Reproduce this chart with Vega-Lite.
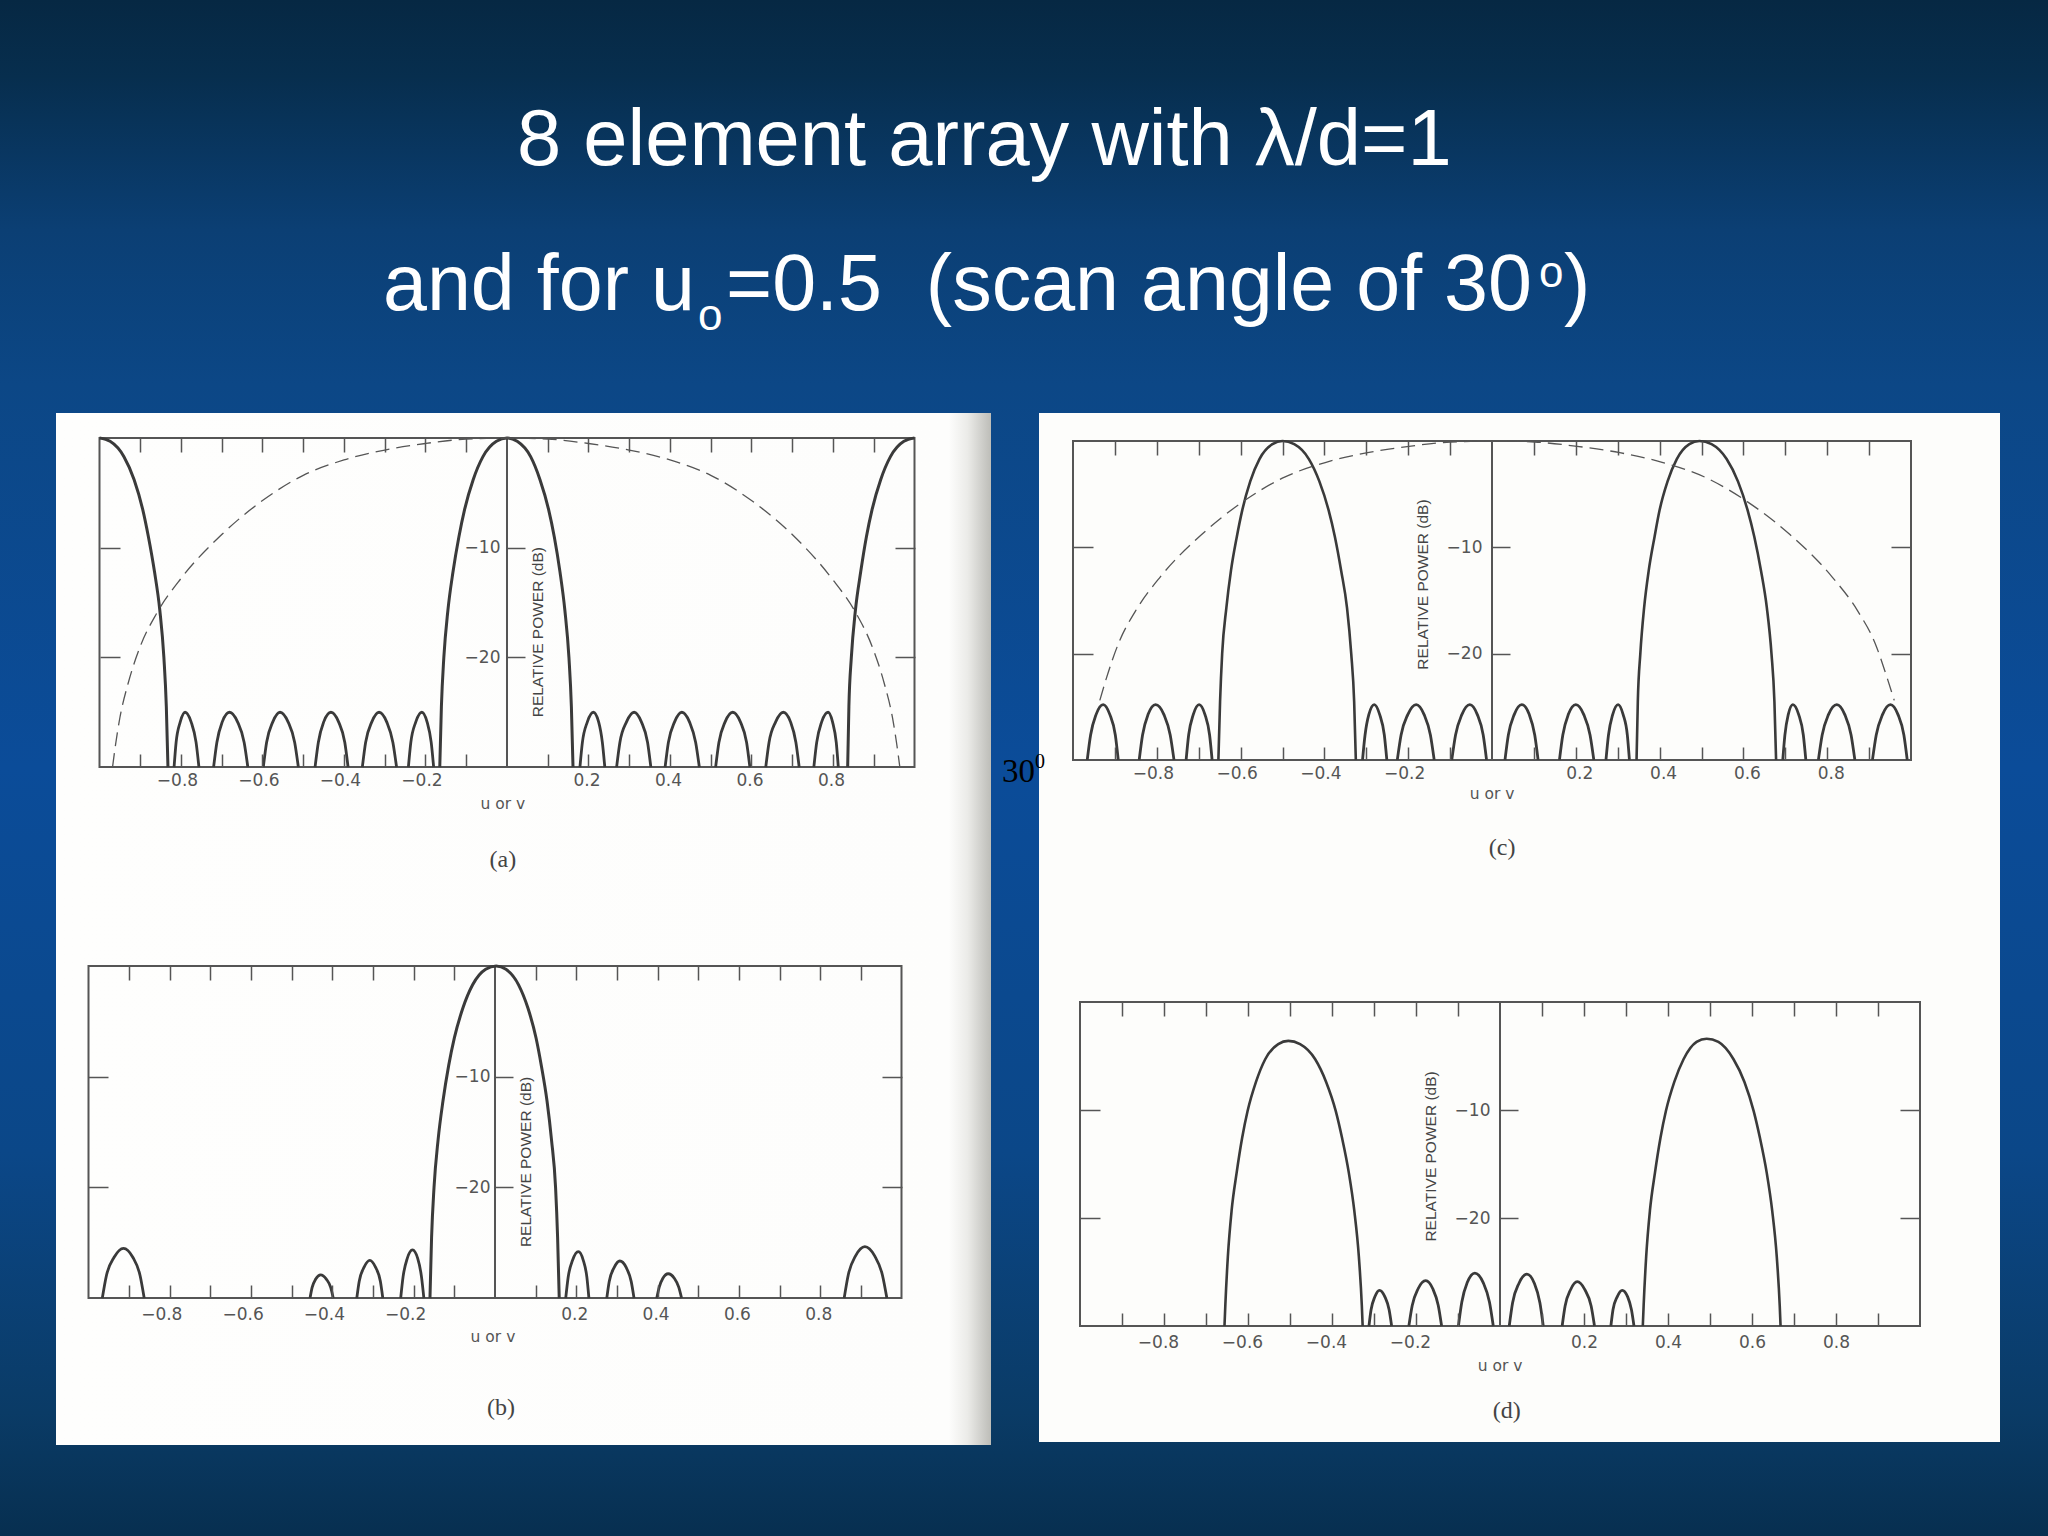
{
"$schema":"https://vega.github.io/schema/vega-lite/v6.json",
"width":2048,"height":1536,"padding":0,"autosize":{"type":"none"},"background":"#0b4a94",
"datasets":{
"frame":[{"u":-1,"u2":1,"db":-30,"db2":0}],
"center":[{"u":0,"db":-30,"db2":0}],
"a_main":[
{"lobe":"m","u":-0.165,"db":-30},{"lobe":"m","u":-0.161,"db":-24.5},{"lobe":"m","u":-0.155,"db":-20},{"lobe":"m","u":-0.145,"db":-15.7},{"lobe":"m","u":-0.1325,"db":-12.2},{"lobe":"m","u":-0.118,"db":-9},{"lobe":"m","u":-0.104,"db":-6.5},{"lobe":"m","u":-0.083,"db":-3.8},{"lobe":"m","u":-0.059,"db":-1.7},{"lobe":"m","u":-0.026,"db":-0.3},{"lobe":"m","u":0,"db":0},{"lobe":"m","u":0.025,"db":-0.3},{"lobe":"m","u":0.058,"db":-1.7},{"lobe":"m","u":0.081,"db":-3.8},{"lobe":"m","u":0.102,"db":-6.5},{"lobe":"m","u":0.116,"db":-9},{"lobe":"m","u":0.13,"db":-12.2},{"lobe":"m","u":0.142,"db":-15.7},{"lobe":"m","u":0.152,"db":-20},{"lobe":"m","u":0.158,"db":-24.5},{"lobe":"m","u":0.162,"db":-30},
{"lobe":"gl","u":-1,"db":0},{"lobe":"gl","u":-0.974,"db":-0.3},{"lobe":"gl","u":-0.94,"db":-1.7},{"lobe":"gl","u":-0.915,"db":-3.8},{"lobe":"gl","u":-0.894,"db":-6.5},{"lobe":"gl","u":-0.88,"db":-9},{"lobe":"gl","u":-0.865,"db":-12.2},{"lobe":"gl","u":-0.852,"db":-15.7},{"lobe":"gl","u":-0.842,"db":-20},{"lobe":"gl","u":-0.836,"db":-24.5},{"lobe":"gl","u":-0.832,"db":-30},
{"lobe":"gr","u":0.836,"db":-30},{"lobe":"gr","u":0.839,"db":-24.5},{"lobe":"gr","u":0.845,"db":-20},{"lobe":"gr","u":0.855,"db":-15.7},{"lobe":"gr","u":0.868,"db":-12.2},{"lobe":"gr","u":0.882,"db":-9},{"lobe":"gr","u":0.896,"db":-6.5},{"lobe":"gr","u":0.917,"db":-3.8},{"lobe":"gr","u":0.941,"db":-1.7},{"lobe":"gr","u":0.974,"db":-0.3},{"lobe":"gr","u":1,"db":0}],
"a_side":[
{"lobe":"1","u":-0.817,"db":-30},{"lobe":"1","u":-0.812,"db":-27.75},{"lobe":"1","u":-0.802,"db":-25.9},{"lobe":"1","u":-0.79,"db":-25},{"lobe":"1","u":-0.775,"db":-25.9},{"lobe":"1","u":-0.763,"db":-27.75},{"lobe":"1","u":-0.756,"db":-30},
{"lobe":"2","u":-0.72,"db":-30},{"lobe":"2","u":-0.712,"db":-27.75},{"lobe":"2","u":-0.699,"db":-25.9},{"lobe":"2","u":-0.681,"db":-25},{"lobe":"2","u":-0.661,"db":-25.9},{"lobe":"2","u":-0.645,"db":-27.75},{"lobe":"2","u":-0.636,"db":-30},
{"lobe":"3","u":-0.598,"db":-30},{"lobe":"3","u":-0.59,"db":-27.75},{"lobe":"3","u":-0.575,"db":-25.9},{"lobe":"3","u":-0.557,"db":-25},{"lobe":"3","u":-0.537,"db":-25.9},{"lobe":"3","u":-0.521,"db":-27.75},{"lobe":"3","u":-0.512,"db":-30},
{"lobe":"4","u":-0.471,"db":-30},{"lobe":"4","u":-0.463,"db":-27.75},{"lobe":"4","u":-0.45,"db":-25.9},{"lobe":"4","u":-0.432,"db":-25},{"lobe":"4","u":-0.413,"db":-25.9},{"lobe":"4","u":-0.398,"db":-27.75},{"lobe":"4","u":-0.39,"db":-30},
{"lobe":"5","u":-0.355,"db":-30},{"lobe":"5","u":-0.347,"db":-27.75},{"lobe":"5","u":-0.332,"db":-25.9},{"lobe":"5","u":-0.314,"db":-25},{"lobe":"5","u":-0.295,"db":-25.9},{"lobe":"5","u":-0.28,"db":-27.75},{"lobe":"5","u":-0.271,"db":-30},
{"lobe":"6","u":-0.242,"db":-30},{"lobe":"6","u":-0.236,"db":-27.75},{"lobe":"6","u":-0.224,"db":-25.9},{"lobe":"6","u":-0.209,"db":-25},{"lobe":"6","u":-0.196,"db":-25.9},{"lobe":"6","u":-0.186,"db":-27.75},{"lobe":"6","u":-0.18,"db":-30},
{"lobe":"7","u":0.179,"db":-30},{"lobe":"7","u":0.185,"db":-27.75},{"lobe":"7","u":0.197,"db":-25.9},{"lobe":"7","u":0.212,"db":-25},{"lobe":"7","u":0.225,"db":-25.9},{"lobe":"7","u":0.234,"db":-27.75},{"lobe":"7","u":0.24,"db":-30},
{"lobe":"8","u":0.269,"db":-30},{"lobe":"8","u":0.277,"db":-27.75},{"lobe":"8","u":0.293,"db":-25.9},{"lobe":"8","u":0.312,"db":-25},{"lobe":"8","u":0.33,"db":-25.9},{"lobe":"8","u":0.345,"db":-27.75},{"lobe":"8","u":0.353,"db":-30},
{"lobe":"9","u":0.388,"db":-30},{"lobe":"9","u":0.396,"db":-27.75},{"lobe":"9","u":0.411,"db":-25.9},{"lobe":"9","u":0.429,"db":-25},{"lobe":"9","u":0.448,"db":-25.9},{"lobe":"9","u":0.463,"db":-27.75},{"lobe":"9","u":0.472,"db":-30},
{"lobe":"10","u":0.512,"db":-30},{"lobe":"10","u":0.52,"db":-27.75},{"lobe":"10","u":0.535,"db":-25.9},{"lobe":"10","u":0.554,"db":-25},{"lobe":"10","u":0.573,"db":-25.9},{"lobe":"10","u":0.588,"db":-27.75},{"lobe":"10","u":0.596,"db":-30},
{"lobe":"11","u":0.635,"db":-30},{"lobe":"11","u":0.643,"db":-27.75},{"lobe":"11","u":0.659,"db":-25.9},{"lobe":"11","u":0.678,"db":-25},{"lobe":"11","u":0.696,"db":-25.9},{"lobe":"11","u":0.709,"db":-27.75},{"lobe":"11","u":0.717,"db":-30},
{"lobe":"12","u":0.753,"db":-30},{"lobe":"12","u":0.76,"db":-27.75},{"lobe":"12","u":0.772,"db":-25.9},{"lobe":"12","u":0.788,"db":-25},{"lobe":"12","u":0.799,"db":-25.9},{"lobe":"12","u":0.808,"db":-27.75},{"lobe":"12","u":0.813,"db":-30}],
"a_dash":[{"u":-0.968,"db":-30},{"u":-0.96,"db":-27.8},{"u":-0.95,"db":-25.5},{"u":-0.93,"db":-22.4},{"u":-0.9,"db":-19},{"u":-0.86,"db":-16},{"u":-0.8,"db":-12.8},{"u":-0.7,"db":-8.8},{"u":-0.6,"db":-5.7},{"u":-0.5,"db":-3.4},{"u":-0.4,"db":-2},{"u":-0.3,"db":-1.1},{"u":-0.2,"db":-0.5},{"u":-0.1,"db":-0.1},{"u":0,"db":0},{"u":0.1,"db":-0.1},{"u":0.2,"db":-0.5},{"u":0.3,"db":-1.1},{"u":0.4,"db":-2},{"u":0.5,"db":-3.4},{"u":0.6,"db":-5.7},{"u":0.7,"db":-8.8},{"u":0.797,"db":-12.8},{"u":0.857,"db":-16},{"u":0.896,"db":-19},{"u":0.926,"db":-22.4},{"u":0.946,"db":-25.5},{"u":0.956,"db":-27.8},{"u":0.964,"db":-30}],
"b_side":[
{"lobe":"1","u":-0.966,"db":-30},{"lobe":"1","u":-0.956,"db":-27.98},{"lobe":"1","u":-0.937,"db":-26.31},{"lobe":"1","u":-0.914,"db":-25.5},{"lobe":"1","u":-0.891,"db":-26.31},{"lobe":"1","u":-0.873,"db":-27.98},{"lobe":"1","u":-0.863,"db":-30},
{"lobe":"2","u":-0.455,"db":-30},{"lobe":"2","u":-0.45,"db":-29.06},{"lobe":"2","u":-0.441,"db":-28.28},{"lobe":"2","u":-0.429,"db":-27.9},{"lobe":"2","u":-0.415,"db":-28.28},{"lobe":"2","u":-0.404,"db":-29.06},{"lobe":"2","u":-0.398,"db":-30},
{"lobe":"3","u":-0.34,"db":-30},{"lobe":"3","u":-0.334,"db":-28.47},{"lobe":"3","u":-0.322,"db":-27.21},{"lobe":"3","u":-0.308,"db":-26.6},{"lobe":"3","u":-0.294,"db":-27.21},{"lobe":"3","u":-0.282,"db":-28.47},{"lobe":"3","u":-0.276,"db":-30},
{"lobe":"4","u":-0.232,"db":-30},{"lobe":"4","u":-0.226,"db":-28.04},{"lobe":"4","u":-0.216,"db":-26.43},{"lobe":"4","u":-0.203,"db":-25.65},{"lobe":"4","u":-0.19,"db":-26.43},{"lobe":"4","u":-0.181,"db":-28.04},{"lobe":"4","u":-0.175,"db":-30},
{"lobe":"5","u":0.174,"db":-30},{"lobe":"5","u":0.18,"db":-28.11},{"lobe":"5","u":0.191,"db":-26.56},{"lobe":"5","u":0.205,"db":-25.8},{"lobe":"5","u":0.217,"db":-26.56},{"lobe":"5","u":0.226,"db":-28.11},{"lobe":"5","u":0.231,"db":-30},
{"lobe":"6","u":0.275,"db":-30},{"lobe":"6","u":0.281,"db":-28.49},{"lobe":"6","u":0.293,"db":-27.25},{"lobe":"6","u":0.307,"db":-26.65},{"lobe":"6","u":0.323,"db":-27.25},{"lobe":"6","u":0.335,"db":-28.49},{"lobe":"6","u":0.342,"db":-30},
{"lobe":"7","u":0.398,"db":-30},{"lobe":"7","u":0.404,"db":-29.01},{"lobe":"7","u":0.413,"db":-28.2},{"lobe":"7","u":0.426,"db":-27.8},{"lobe":"7","u":0.441,"db":-28.2},{"lobe":"7","u":0.452,"db":-29.01},{"lobe":"7","u":0.459,"db":-30},
{"lobe":"8","u":0.859,"db":-30},{"lobe":"8","u":0.869,"db":-27.91},{"lobe":"8","u":0.887,"db":-26.19},{"lobe":"8","u":0.91,"db":-25.35},{"lobe":"8","u":0.934,"db":-26.19},{"lobe":"8","u":0.953,"db":-27.91},{"lobe":"8","u":0.964,"db":-30}],
"b_main":[{"lobe":"m","u":-0.16,"db":-30},{"lobe":"m","u":-0.156,"db":-24.5},{"lobe":"m","u":-0.15,"db":-20},{"lobe":"m","u":-0.14,"db":-15.7},{"lobe":"m","u":-0.128,"db":-12.2},{"lobe":"m","u":-0.114,"db":-9},{"lobe":"m","u":-0.1,"db":-6.5},{"lobe":"m","u":-0.079,"db":-3.8},{"lobe":"m","u":-0.055,"db":-1.7},{"lobe":"m","u":-0.023,"db":-0.3},{"lobe":"m","u":0.003,"db":0},{"lobe":"m","u":0.027,"db":-0.3},{"lobe":"m","u":0.058,"db":-1.7},{"lobe":"m","u":0.081,"db":-3.8},{"lobe":"m","u":0.101,"db":-6.5},{"lobe":"m","u":0.114,"db":-9},{"lobe":"m","u":0.128,"db":-12.2},{"lobe":"m","u":0.139,"db":-15.7},{"lobe":"m","u":0.149,"db":-20},{"lobe":"m","u":0.154,"db":-24.5},{"lobe":"m","u":0.158,"db":-30}],
"c_main":[
{"lobe":"m1","u":-0.653,"db":-30},{"lobe":"m1","u":-0.649,"db":-24.5},{"lobe":"m1","u":-0.644,"db":-20},{"lobe":"m1","u":-0.634,"db":-15.7},{"lobe":"m1","u":-0.623,"db":-12.2},{"lobe":"m1","u":-0.609,"db":-9},{"lobe":"m1","u":-0.596,"db":-6.5},{"lobe":"m1","u":-0.577,"db":-3.8},{"lobe":"m1","u":-0.555,"db":-1.7},{"lobe":"m1","u":-0.524,"db":-0.3},{"lobe":"m1","u":-0.5,"db":0},{"lobe":"m1","u":-0.472,"db":-0.3},{"lobe":"m1","u":-0.437,"db":-1.7},{"lobe":"m1","u":-0.412,"db":-3.8},{"lobe":"m1","u":-0.39,"db":-6.5},{"lobe":"m1","u":-0.375,"db":-9},{"lobe":"m1","u":-0.36,"db":-12.2},{"lobe":"m1","u":-0.346,"db":-15.7},{"lobe":"m1","u":-0.336,"db":-20},{"lobe":"m1","u":-0.329,"db":-24.5},{"lobe":"m1","u":-0.325,"db":-30},
{"lobe":"m2","u":0.345,"db":-30},{"lobe":"m2","u":0.348,"db":-24.5},{"lobe":"m2","u":0.354,"db":-20},{"lobe":"m2","u":0.363,"db":-15.7},{"lobe":"m2","u":0.374,"db":-12.2},{"lobe":"m2","u":0.388,"db":-9},{"lobe":"m2","u":0.4,"db":-6.5},{"lobe":"m2","u":0.419,"db":-3.8},{"lobe":"m2","u":0.441,"db":-1.7},{"lobe":"m2","u":0.471,"db":-0.3},{"lobe":"m2","u":0.495,"db":0},{"lobe":"m2","u":0.524,"db":-0.3},{"lobe":"m2","u":0.56,"db":-1.7},{"lobe":"m2","u":0.587,"db":-3.8},{"lobe":"m2","u":0.61,"db":-6.5},{"lobe":"m2","u":0.626,"db":-9},{"lobe":"m2","u":0.642,"db":-12.2},{"lobe":"m2","u":0.656,"db":-15.7},{"lobe":"m2","u":0.667,"db":-20},{"lobe":"m2","u":0.674,"db":-24.5},{"lobe":"m2","u":0.678,"db":-30}],
"c_side":[
{"lobe":"1","u":-0.966,"db":-30},{"lobe":"1","u":-0.958,"db":-27.66},{"lobe":"1","u":-0.945,"db":-25.74},{"lobe":"1","u":-0.928,"db":-24.8},{"lobe":"1","u":-0.912,"db":-25.74},{"lobe":"1","u":-0.899,"db":-27.66},{"lobe":"1","u":-0.892,"db":-30},
{"lobe":"2","u":-0.842,"db":-30},{"lobe":"2","u":-0.834,"db":-27.66},{"lobe":"2","u":-0.821,"db":-25.74},{"lobe":"2","u":-0.803,"db":-24.8},{"lobe":"2","u":-0.783,"db":-25.74},{"lobe":"2","u":-0.768,"db":-27.66},{"lobe":"2","u":-0.759,"db":-30},
{"lobe":"3","u":-0.73,"db":-30},{"lobe":"3","u":-0.724,"db":-27.66},{"lobe":"3","u":-0.713,"db":-25.74},{"lobe":"3","u":-0.699,"db":-24.8},{"lobe":"3","u":-0.685,"db":-25.74},{"lobe":"3","u":-0.674,"db":-27.66},{"lobe":"3","u":-0.668,"db":-30},
{"lobe":"4","u":-0.309,"db":-30},{"lobe":"4","u":-0.303,"db":-27.66},{"lobe":"4","u":-0.294,"db":-25.74},{"lobe":"4","u":-0.281,"db":-24.8},{"lobe":"4","u":-0.268,"db":-25.74},{"lobe":"4","u":-0.257,"db":-27.66},{"lobe":"4","u":-0.251,"db":-30},
{"lobe":"5","u":-0.226,"db":-30},{"lobe":"5","u":-0.217,"db":-27.66},{"lobe":"5","u":-0.201,"db":-25.74},{"lobe":"5","u":-0.181,"db":-24.8},{"lobe":"5","u":-0.162,"db":-25.74},{"lobe":"5","u":-0.147,"db":-27.66},{"lobe":"5","u":-0.138,"db":-30},
{"lobe":"6","u":-0.096,"db":-30},{"lobe":"6","u":-0.087,"db":-27.66},{"lobe":"6","u":-0.072,"db":-25.74},{"lobe":"6","u":-0.053,"db":-24.8},{"lobe":"6","u":-0.035,"db":-25.74},{"lobe":"6","u":-0.021,"db":-27.66},{"lobe":"6","u":-0.013,"db":-30},
{"lobe":"7","u":0.031,"db":-30},{"lobe":"7","u":0.039,"db":-27.66},{"lobe":"7","u":0.053,"db":-25.74},{"lobe":"7","u":0.071,"db":-24.8},{"lobe":"7","u":0.089,"db":-25.74},{"lobe":"7","u":0.102,"db":-27.66},{"lobe":"7","u":0.11,"db":-30},
{"lobe":"8","u":0.161,"db":-30},{"lobe":"8","u":0.169,"db":-27.66},{"lobe":"8","u":0.182,"db":-25.74},{"lobe":"8","u":0.2,"db":-24.8},{"lobe":"8","u":0.219,"db":-25.74},{"lobe":"8","u":0.234,"db":-27.66},{"lobe":"8","u":0.243,"db":-30},
{"lobe":"9","u":0.272,"db":-30},{"lobe":"9","u":0.278,"db":-27.66},{"lobe":"9","u":0.288,"db":-25.74},{"lobe":"9","u":0.301,"db":-24.8},{"lobe":"9","u":0.313,"db":-25.74},{"lobe":"9","u":0.323,"db":-27.66},{"lobe":"9","u":0.328,"db":-30},
{"lobe":"10","u":0.694,"db":-30},{"lobe":"10","u":0.699,"db":-27.66},{"lobe":"10","u":0.707,"db":-25.74},{"lobe":"10","u":0.718,"db":-24.8},{"lobe":"10","u":0.732,"db":-25.74},{"lobe":"10","u":0.743,"db":-27.66},{"lobe":"10","u":0.749,"db":-30},
{"lobe":"11","u":0.779,"db":-30},{"lobe":"11","u":0.788,"db":-27.66},{"lobe":"11","u":0.803,"db":-25.74},{"lobe":"11","u":0.823,"db":-24.8},{"lobe":"11","u":0.842,"db":-25.74},{"lobe":"11","u":0.857,"db":-27.66},{"lobe":"11","u":0.866,"db":-30},
{"lobe":"12","u":0.908,"db":-30},{"lobe":"12","u":0.917,"db":-27.66},{"lobe":"12","u":0.932,"db":-25.74},{"lobe":"12","u":0.951,"db":-24.8},{"lobe":"12","u":0.969,"db":-25.74},{"lobe":"12","u":0.983,"db":-27.66},{"lobe":"12","u":0.991,"db":-30}],
"c_dash":[{"u":-0.936,"db":-24.4},{"u":-0.921,"db":-22.4},{"u":-0.891,"db":-19},{"u":-0.851,"db":-16},{"u":-0.792,"db":-12.8},{"u":-0.693,"db":-8.8},{"u":-0.594,"db":-5.7},{"u":-0.495,"db":-3.4},{"u":-0.396,"db":-2},{"u":-0.297,"db":-1.1},{"u":-0.198,"db":-0.5},{"u":-0.099,"db":-0.1},{"u":0,"db":0},{"u":0.102,"db":-0.1},{"u":0.203,"db":-0.5},{"u":0.305,"db":-1.1},{"u":0.406,"db":-2},{"u":0.508,"db":-3.4},{"u":0.609,"db":-5.7},{"u":0.711,"db":-8.8},{"u":0.812,"db":-12.8},{"u":0.873,"db":-16},{"u":0.914,"db":-19},{"u":0.944,"db":-22.4},{"u":0.96,"db":-24.4}],
"d_main":[
{"lobe":"m1","u":-0.656,"db":-30},{"lobe":"m1","u":-0.654,"db":-28.1},{"lobe":"m1","u":-0.648,"db":-23.6},{"lobe":"m1","u":-0.639,"db":-19.3},{"lobe":"m1","u":-0.627,"db":-15.8},{"lobe":"m1","u":-0.614,"db":-12.6},{"lobe":"m1","u":-0.601,"db":-10.1},{"lobe":"m1","u":-0.581,"db":-7.4},{"lobe":"m1","u":-0.559,"db":-5.3},{"lobe":"m1","u":-0.528,"db":-3.9},{"lobe":"m1","u":-0.504,"db":-3.6},{"lobe":"m1","u":-0.476,"db":-3.9},{"lobe":"m1","u":-0.44,"db":-5.3},{"lobe":"m1","u":-0.414,"db":-7.4},{"lobe":"m1","u":-0.391,"db":-10.1},{"lobe":"m1","u":-0.376,"db":-12.6},{"lobe":"m1","u":-0.36,"db":-15.8},{"lobe":"m1","u":-0.347,"db":-19.3},{"lobe":"m1","u":-0.336,"db":-23.6},{"lobe":"m1","u":-0.329,"db":-28.1},{"lobe":"m1","u":-0.327,"db":-30},
{"lobe":"m2","u":0.34,"db":-30},{"lobe":"m2","u":0.342,"db":-28.1},{"lobe":"m2","u":0.348,"db":-23.6},{"lobe":"m2","u":0.357,"db":-19.3},{"lobe":"m2","u":0.369,"db":-15.8},{"lobe":"m2","u":0.382,"db":-12.6},{"lobe":"m2","u":0.395,"db":-10.1},{"lobe":"m2","u":0.415,"db":-7.4},{"lobe":"m2","u":0.437,"db":-5.3},{"lobe":"m2","u":0.468,"db":-3.7},{"lobe":"m2","u":0.492,"db":-3.4},{"lobe":"m2","u":0.52,"db":-3.7},{"lobe":"m2","u":0.556,"db":-5.3},{"lobe":"m2","u":0.582,"db":-7.4},{"lobe":"m2","u":0.604,"db":-10.1},{"lobe":"m2","u":0.619,"db":-12.6},{"lobe":"m2","u":0.635,"db":-15.8},{"lobe":"m2","u":0.648,"db":-19.3},{"lobe":"m2","u":0.659,"db":-23.6},{"lobe":"m2","u":0.666,"db":-28.1},{"lobe":"m2","u":0.668,"db":-30}],
"d_side":[
{"lobe":"1","u":-0.312,"db":-30},{"lobe":"1","u":-0.307,"db":-28.5},{"lobe":"1","u":-0.298,"db":-27.3},{"lobe":"1","u":-0.287,"db":-26.7},{"lobe":"1","u":-0.274,"db":-27.3},{"lobe":"1","u":-0.264,"db":-28.5},{"lobe":"1","u":-0.258,"db":-30},
{"lobe":"2","u":-0.217,"db":-30},{"lobe":"2","u":-0.209,"db":-28.1},{"lobe":"2","u":-0.195,"db":-26.55},{"lobe":"2","u":-0.177,"db":-25.8},{"lobe":"2","u":-0.16,"db":-26.55},{"lobe":"2","u":-0.147,"db":-28.1},{"lobe":"2","u":-0.139,"db":-30},
{"lobe":"3","u":-0.099,"db":-30},{"lobe":"3","u":-0.091,"db":-27.8},{"lobe":"3","u":-0.078,"db":-25.98},{"lobe":"3","u":-0.06,"db":-25.1},{"lobe":"3","u":-0.04,"db":-25.98},{"lobe":"3","u":-0.025,"db":-27.8},{"lobe":"3","u":-0.016,"db":-30},
{"lobe":"4","u":0.022,"db":-30},{"lobe":"4","u":0.03,"db":-27.84},{"lobe":"4","u":0.045,"db":-26.06},{"lobe":"4","u":0.064,"db":-25.2},{"lobe":"4","u":0.082,"db":-26.06},{"lobe":"4","u":0.095,"db":-27.84},{"lobe":"4","u":0.103,"db":-30},
{"lobe":"5","u":0.148,"db":-30},{"lobe":"5","u":0.155,"db":-28.15},{"lobe":"5","u":0.168,"db":-26.64},{"lobe":"5","u":0.184,"db":-25.9},{"lobe":"5","u":0.202,"db":-26.64},{"lobe":"5","u":0.217,"db":-28.15},{"lobe":"5","u":0.225,"db":-30},
{"lobe":"6","u":0.264,"db":-30},{"lobe":"6","u":0.269,"db":-28.5},{"lobe":"6","u":0.279,"db":-27.3},{"lobe":"6","u":0.291,"db":-26.7},{"lobe":"6","u":0.304,"db":-27.3},{"lobe":"6","u":0.313,"db":-28.5},{"lobe":"6","u":0.319,"db":-30}]
},
"resolve":{"scale":{"x":"independent","y":"independent"},"axis":{"x":"independent","y":"independent"}},
"layer":[
{"data":{"values":[{"a":1}]},"mark":{"type":"rect","x":0,"x2":2048,"y":0,"y2":1536,"color":{"gradient":"linear","x1":0,"x2":0,"y1":0,"y2":1,"stops":[{"offset":0,"color":"#062843"},{"offset":0.05,"color":"#072e4e"},{"offset":0.15,"color":"#0b3f74"},{"offset":0.25,"color":"#0c4786"},{"offset":0.5,"color":"#0b4c99"},{"offset":0.75,"color":"#0b4788"},{"offset":0.92,"color":"#0a3b66"},{"offset":1,"color":"#072f50"}]}},"encoding":{}},
{"data":{"values":[{"a":1}]},"mark":{"type":"rect","x":56,"x2":991,"y":413,"y2":1445,"color":{"gradient":"linear","x1":0,"x2":1,"y1":0,"y2":0,"stops":[{"offset":0,"color":"#fefefd"},{"offset":0.955,"color":"#fdfdfc"},{"offset":0.975,"color":"#ebebe8"},{"offset":0.99,"color":"#cfcfcb"},{"offset":1,"color":"#bdbdb8"}]}},"encoding":{}},
{"data":{"values":[{"a":1}]},"mark":{"type":"rect","x":1039,"x2":2000,"y":413,"y2":1442,"color":"#fdfdfb"},"encoding":{}},
{"data":{"values":[{"t":"8 element array with λ/d=1"}]},"mark":{"type":"text","x":517,"y":165,"align":"left","baseline":"alphabetic","font":"Liberation Sans","fontSize":79.5,"color":"#ffffff"},"encoding":{"text":{"field":"t"}}},
{"data":{"values":[{"t":"and for u"}]},"mark":{"type":"text","x":383,"y":310,"align":"left","baseline":"alphabetic","font":"Liberation Sans","fontSize":79,"color":"#ffffff"},"encoding":{"text":{"field":"t"}}},
{"data":{"values":[{"t":"o"}]},"mark":{"type":"text","x":698,"y":330,"align":"left","baseline":"alphabetic","font":"Liberation Sans","fontSize":44,"color":"#ffffff"},"encoding":{"text":{"field":"t"}}},
{"data":{"values":[{"t":"=0.5\u00a0\u00a0(scan angle of 30"}]},"mark":{"type":"text","x":726,"y":310,"align":"left","baseline":"alphabetic","font":"Liberation Sans","fontSize":79,"color":"#ffffff"},"encoding":{"text":{"field":"t"}}},
{"data":{"values":[{"t":"o"}]},"mark":{"type":"text","x":1539,"y":287,"align":"left","baseline":"alphabetic","font":"Liberation Sans","fontSize":44,"color":"#ffffff"},"encoding":{"text":{"field":"t"}}},
{"data":{"values":[{"t":")"}]},"mark":{"type":"text","x":1564,"y":310,"align":"left","baseline":"alphabetic","font":"Liberation Sans","fontSize":79,"color":"#ffffff"},"encoding":{"text":{"field":"t"}}},
{"data":{"values":[{"t":"30"}]},"mark":{"type":"text","x":1002,"y":782,"align":"left","baseline":"alphabetic","font":"Liberation Serif","fontSize":33,"color":"#000000"},"encoding":{"text":{"field":"t"}}},
{"data":{"values":[{"t":"0"}]},"mark":{"type":"text","x":1035,"y":768,"align":"left","baseline":"alphabetic","font":"Liberation Serif","fontSize":20,"color":"#000000"},"encoding":{"text":{"field":"t"}}},

{"encoding":{"x":{"field":"u","type":"quantitative","scale":{"domain":[-1.24417,3.7816],"nice":false,"zero":false},"axis":null},"y":{"field":"db","type":"quantitative","scale":{"domain":[-100.09,39.927],"nice":false,"zero":false},"axis":null}},
"resolve":{"axis":{"x":"independent","y":"independent"}},
"layer":[
{"data":{"name":"frame"},"mark":{"type":"rect","filled":false,"stroke":"#555555","strokeWidth":2},"encoding":{"x":{"field":"u","type":"quantitative","scale":{"domain":[-1.24417,3.7816],"nice":false,"zero":false},"axis":{"zindex":1,"orient":"bottom","offset":-769,"values":[-0.9,-0.8,-0.7,-0.6,-0.5,-0.4,-0.3,-0.2,-0.1,0.1,0.2,0.3,0.4,0.5,0.6,0.7,0.8,0.9],"labelExpr":"round(abs(datum.value)*10)%2==0 ? (datum.value<0 ? '−' : '')+format(abs(datum.value),'.1f') : ''","labelOverlap":false,"labelFont":"DejaVu Sans","labelFontSize":17,"labelColor":"#555555","labelPadding":18,"labelOffset":{"condition":{"test":"datum.value<0","value":-4},"value":-2},"tickSize":-13,"tickColor":"#555555","tickWidth":1.5,"domain":false,"grid":false,"title":null}},"x2":{"field":"u2"},"y":{"field":"db","type":"quantitative","scale":{"domain":[-100.09,39.927],"nice":false,"zero":false},"axis":{"zindex":1,"orient":"left","offset":-100,"values":[-10,-20],"labels":false,"tickSize":-20,"tickColor":"#555555","tickWidth":1.5,"domain":false,"grid":false,"title":null}},"y2":{"field":"db2"}}},
{"data":{"name":"center"},"mark":{"type":"rule","stroke":"#555555","strokeWidth":2},"encoding":{"x":{"field":"u","type":"quantitative","scale":{"domain":[-1.24417,3.7816],"nice":false,"zero":false},"axis":{"zindex":1,"orient":"top","offset":-438,"values":[-0.9,-0.8,-0.7,-0.6,-0.5,-0.4,-0.3,-0.2,-0.1,0.1,0.2,0.3,0.4,0.5,0.6,0.7,0.8,0.9],"labels":false,"tickSize":-14,"tickColor":"#555555","tickWidth":1.5,"domain":false,"grid":false,"title":null}},"y":{"field":"db","type":"quantitative","scale":{"domain":[-100.09,39.927],"nice":false,"zero":false},"axis":{"zindex":1,"orient":"left","offset":-507,"values":[-10,-20],"labelExpr":"'−'+format(abs(datum.value),'.0f')","labelFont":"DejaVu Sans","labelFontSize":17,"labelColor":"#555555","labelPadding":25,"tickSize":-18,"tickColor":"#555555","tickWidth":1.5,"domain":false,"grid":false,"title":null}},"y2":{"field":"db2"}}},
{"data":{"name":"a_main"},"mark":{"type":"line","interpolate":"monotone","stroke":"#3a3a3a","strokeWidth":3},"encoding":{"detail":{"field":"lobe"},"y":{"field":"db","type":"quantitative","scale":{"domain":[-100.09,39.927],"nice":false,"zero":false},"axis":{"zindex":1,"orient":"right","offset":-1133,"values":[-10,-20],"labels":false,"tickSize":-20,"tickColor":"#555555","tickWidth":1.5,"domain":false,"grid":false,"title":null}}}},
{"data":{"name":"a_side"},"mark":{"type":"line","interpolate":"monotone","stroke":"#3a3a3a","strokeWidth":2.8},"encoding":{"detail":{"field":"lobe"}}},
{"data":{"name":"a_dash"},"mark":{"type":"line","interpolate":"monotone","stroke":"#555555","strokeWidth":1.3,"strokeDash":[14,7]},"encoding":{}},
{"data":{"values":[{"label":"u or v","u":-0.01,"db":-33.8}]},"mark":{"type":"text","font":"DejaVu Sans","fontSize":15.5,"color":"#555555","baseline":"alphabetic"},"encoding":{"text":{"field":"label"}}},
{"data":{"values":[{"label":"(a)","u":-0.01,"db":-39.1}]},"mark":{"type":"text","font":"Liberation Serif","fontSize":24,"color":"#444444","baseline":"alphabetic"},"encoding":{"text":{"field":"label"}}},
{"data":{"values":[{"label":"RELATIVE POWER (dB)","u":0.076,"db":-17.7}]},"mark":{"type":"text","font":"Liberation Sans","fontSize":15.5,"color":"#444444","angle":270,"baseline":"middle"},"encoding":{"text":{"field":"label"}}}
]},

{"encoding":{"x":{"field":"u","type":"quantitative","scale":{"domain":[-1.21771,3.82042],"nice":false,"zero":false},"axis":null},"y":{"field":"db","type":"quantitative","scale":{"domain":[-51.49,87.263],"nice":false,"zero":false},"axis":null}},
"resolve":{"axis":{"x":"independent","y":"independent"}},
"layer":[
{"data":{"name":"frame"},"mark":{"type":"rect","filled":false,"stroke":"#555555","strokeWidth":2},"encoding":{"x":{"field":"u","type":"quantitative","scale":{"domain":[-1.21771,3.82042],"nice":false,"zero":false},"axis":{"zindex":1,"orient":"bottom","offset":-238,"values":[-0.9,-0.8,-0.7,-0.6,-0.5,-0.4,-0.3,-0.2,-0.1,0.1,0.2,0.3,0.4,0.5,0.6,0.7,0.8,0.9],"labelExpr":"round(abs(datum.value)*10)%2==0 ? (datum.value<0 ? '−' : '')+format(abs(datum.value),'.1f') : ''","labelOverlap":false,"labelFont":"DejaVu Sans","labelFontSize":17,"labelColor":"#555555","labelPadding":21.5,"labelOffset":{"condition":{"test":"datum.value<0","value":-8.5},"value":-2},"tickSize":-13,"tickColor":"#555555","tickWidth":1.5,"domain":false,"grid":false,"title":null}},"x2":{"field":"u2"},"y":{"field":"db","type":"quantitative","scale":{"domain":[-51.49,87.263],"nice":false,"zero":false},"axis":{"zindex":1,"orient":"left","offset":-88,"values":[-10,-20],"labels":false,"tickSize":-20,"tickColor":"#555555","tickWidth":1.5,"domain":false,"grid":false,"title":null}},"y2":{"field":"db2"}}},
{"data":{"name":"center"},"mark":{"type":"rule","stroke":"#555555","strokeWidth":2},"encoding":{"x":{"field":"u","type":"quantitative","scale":{"domain":[-1.21771,3.82042],"nice":false,"zero":false},"axis":{"zindex":1,"orient":"top","offset":-966,"values":[-0.9,-0.8,-0.7,-0.6,-0.5,-0.4,-0.3,-0.2,-0.1,0.1,0.2,0.3,0.4,0.5,0.6,0.7,0.8,0.9],"labels":false,"tickSize":-14,"tickColor":"#555555","tickWidth":1.5,"domain":false,"grid":false,"title":null}},"y":{"field":"db","type":"quantitative","scale":{"domain":[-51.49,87.263],"nice":false,"zero":false},"axis":{"zindex":1,"orient":"left","offset":-495,"values":[-10,-20],"labelExpr":"'−'+format(abs(datum.value),'.0f')","labelFont":"DejaVu Sans","labelFontSize":17,"labelColor":"#555555","labelPadding":23,"tickSize":-18,"tickColor":"#555555","tickWidth":1.5,"domain":false,"grid":false,"title":null}},"y2":{"field":"db2"}}},
{"data":{"name":"b_main"},"mark":{"type":"line","interpolate":"monotone","stroke":"#3a3a3a","strokeWidth":3},"encoding":{"detail":{"field":"lobe"},"y":{"field":"db","type":"quantitative","scale":{"domain":[-51.49,87.263],"nice":false,"zero":false},"axis":{"zindex":1,"orient":"right","offset":-1146,"values":[-10,-20],"labels":false,"tickSize":-20,"tickColor":"#555555","tickWidth":1.5,"domain":false,"grid":false,"title":null}}}},
{"data":{"name":"b_side"},"mark":{"type":"line","interpolate":"monotone","stroke":"#3a3a3a","strokeWidth":2.8},"encoding":{"detail":{"field":"lobe"}}},
{"data":{"values":[{"label":"u or v","u":-0.005,"db":-34}]},"mark":{"type":"text","font":"DejaVu Sans","fontSize":15.5,"color":"#555555","baseline":"alphabetic"},"encoding":{"text":{"field":"label"}}},
{"data":{"values":[{"label":"(b)","u":0.015,"db":-40.6}]},"mark":{"type":"text","font":"Liberation Serif","fontSize":24,"color":"#444444","baseline":"alphabetic"},"encoding":{"text":{"field":"label"}}},
{"data":{"values":[{"label":"RELATIVE POWER (dB)","u":0.076,"db":-17.7}]},"mark":{"type":"text","font":"Liberation Sans","fontSize":15.5,"color":"#444444","angle":270,"baseline":"middle"},"encoding":{"text":{"field":"label"}}}
]},

{"encoding":{"x":{"field":"u","type":"quantitative","scale":{"domain":[-3.56086,1.32696],"nice":false,"zero":false},"axis":null},"y":{"field":"db","type":"quantitative","scale":{"domain":[-103.01,41.486],"nice":false,"zero":false},"axis":null}},
"resolve":{"axis":{"x":"independent","y":"independent"}},
"layer":[
{"data":{"name":"frame"},"mark":{"type":"rect","filled":false,"stroke":"#555555","strokeWidth":2},"encoding":{"x":{"field":"u","type":"quantitative","scale":{"domain":[-3.56086,1.32696],"nice":false,"zero":false},"axis":{"zindex":1,"orient":"bottom","offset":-776,"values":[-0.9,-0.8,-0.7,-0.6,-0.5,-0.4,-0.3,-0.2,-0.1,0.1,0.2,0.3,0.4,0.5,0.6,0.7,0.8,0.9],"labelExpr":"round(abs(datum.value)*10)%2==0 ? (datum.value<0 ? '−' : '')+format(abs(datum.value),'.1f') : ''","labelOverlap":false,"labelFont":"DejaVu Sans","labelFontSize":17,"labelColor":"#555555","labelPadding":18.5,"labelOffset":{"condition":{"test":"datum.value<0","value":-4},"value":3.5},"tickSize":-13,"tickColor":"#555555","tickWidth":1.5,"domain":false,"grid":false,"title":null}},"x2":{"field":"u2"},"y":{"field":"db","type":"quantitative","scale":{"domain":[-103.01,41.486],"nice":false,"zero":false},"axis":{"zindex":1,"orient":"left","offset":-1073,"values":[-10,-20],"labels":false,"tickSize":-20,"tickColor":"#555555","tickWidth":1.5,"domain":false,"grid":false,"title":null}},"y2":{"field":"db2"}}},
{"data":{"name":"center"},"mark":{"type":"rule","stroke":"#555555","strokeWidth":2},"encoding":{"x":{"field":"u","type":"quantitative","scale":{"domain":[-3.56086,1.32696],"nice":false,"zero":false},"axis":{"zindex":1,"orient":"top","offset":-441,"values":[-0.9,-0.8,-0.7,-0.6,-0.5,-0.4,-0.3,-0.2,-0.1,0.1,0.2,0.3,0.4,0.5,0.6,0.7,0.8,0.9],"labels":false,"tickSize":-14,"tickColor":"#555555","tickWidth":1.5,"domain":false,"grid":false,"title":null}},"y":{"field":"db","type":"quantitative","scale":{"domain":[-103.01,41.486],"nice":false,"zero":false},"axis":{"zindex":1,"orient":"left","offset":-1492,"values":[-10,-20],"labelExpr":"'−'+format(abs(datum.value),'.0f')","labelFont":"DejaVu Sans","labelFontSize":17,"labelColor":"#555555","labelPadding":28,"tickSize":-18,"tickColor":"#555555","tickWidth":1.5,"domain":false,"grid":false,"title":null}},"y2":{"field":"db2"}}},
{"data":{"name":"c_main"},"mark":{"type":"line","interpolate":"monotone","stroke":"#3a3a3a","strokeWidth":2.6},"encoding":{"detail":{"field":"lobe"},"y":{"field":"db","type":"quantitative","scale":{"domain":[-103.01,41.486],"nice":false,"zero":false},"axis":{"zindex":1,"orient":"right","offset":-137,"values":[-10,-20],"labels":false,"tickSize":-20,"tickColor":"#555555","tickWidth":1.5,"domain":false,"grid":false,"title":null}}}},
{"data":{"name":"c_side"},"mark":{"type":"line","interpolate":"monotone","stroke":"#3a3a3a","strokeWidth":2.8},"encoding":{"detail":{"field":"lobe"}}},
{"data":{"name":"c_dash"},"mark":{"type":"line","interpolate":"monotone","stroke":"#555555","strokeWidth":1.3,"strokeDash":[14,7]},"encoding":{}},
{"data":{"values":[{"label":"u or v","u":0,"db":-33.7}]},"mark":{"type":"text","font":"DejaVu Sans","fontSize":15.5,"color":"#555555","baseline":"alphabetic"},"encoding":{"text":{"field":"label"}}},
{"data":{"values":[{"label":"(c)","u":0.024,"db":-38.9}]},"mark":{"type":"text","font":"Liberation Serif","fontSize":24,"color":"#444444","baseline":"alphabetic"},"encoding":{"text":{"field":"label"}}},
{"data":{"values":[{"label":"RELATIVE POWER (dB)","u":-0.164,"db":-13.5}]},"mark":{"type":"text","font":"Liberation Sans","fontSize":15.5,"color":"#444444","angle":270,"baseline":"middle"},"encoding":{"text":{"field":"label"}}}
]},

{"encoding":{"x":{"field":"u","type":"quantitative","scale":{"domain":[-3.57143,1.30476],"nice":false,"zero":false},"axis":null},"y":{"field":"db","type":"quantitative","scale":{"domain":[-49.444,92.778],"nice":false,"zero":false},"axis":null}},
"resolve":{"axis":{"x":"independent","y":"independent"}},
"layer":[
{"data":{"name":"frame"},"mark":{"type":"rect","filled":false,"stroke":"#555555","strokeWidth":2},"encoding":{"x":{"field":"u","type":"quantitative","scale":{"domain":[-3.57143,1.30476],"nice":false,"zero":false},"axis":{"zindex":1,"orient":"bottom","offset":-210,"values":[-0.9,-0.8,-0.7,-0.6,-0.5,-0.4,-0.3,-0.2,-0.1,0.1,0.2,0.3,0.4,0.5,0.6,0.7,0.8,0.9],"labelExpr":"round(abs(datum.value)*10)%2==0 ? (datum.value<0 ? '−' : '')+format(abs(datum.value),'.1f') : ''","labelOverlap":false,"labelFont":"DejaVu Sans","labelFontSize":17,"labelColor":"#555555","labelPadding":21,"labelOffset":{"condition":{"test":"datum.value<0","value":-6},"value":0},"tickSize":-13,"tickColor":"#555555","tickWidth":1.5,"domain":false,"grid":false,"title":null}},"x2":{"field":"u2"},"y":{"field":"db","type":"quantitative","scale":{"domain":[-49.444,92.778],"nice":false,"zero":false},"axis":{"zindex":1,"orient":"left","offset":-1080,"values":[-10,-20],"labels":false,"tickSize":-20,"tickColor":"#555555","tickWidth":1.5,"domain":false,"grid":false,"title":null}},"y2":{"field":"db2"}}},
{"data":{"name":"center"},"mark":{"type":"rule","stroke":"#555555","strokeWidth":2},"encoding":{"x":{"field":"u","type":"quantitative","scale":{"domain":[-3.57143,1.30476],"nice":false,"zero":false},"axis":{"zindex":1,"orient":"top","offset":-1002,"values":[-0.9,-0.8,-0.7,-0.6,-0.5,-0.4,-0.3,-0.2,-0.1,0.1,0.2,0.3,0.4,0.5,0.6,0.7,0.8,0.9],"labels":false,"tickSize":-14,"tickColor":"#555555","tickWidth":1.5,"domain":false,"grid":false,"title":null}},"y":{"field":"db","type":"quantitative","scale":{"domain":[-49.444,92.778],"nice":false,"zero":false},"axis":{"zindex":1,"orient":"left","offset":-1500,"values":[-10,-20],"labelExpr":"'−'+format(abs(datum.value),'.0f')","labelFont":"DejaVu Sans","labelFontSize":17,"labelColor":"#555555","labelPadding":28,"tickSize":-18,"tickColor":"#555555","tickWidth":1.5,"domain":false,"grid":false,"title":null}},"y2":{"field":"db2"}}},
{"data":{"name":"d_main"},"mark":{"type":"line","interpolate":"monotone","stroke":"#3a3a3a","strokeWidth":2.6},"encoding":{"detail":{"field":"lobe"},"y":{"field":"db","type":"quantitative","scale":{"domain":[-49.444,92.778],"nice":false,"zero":false},"axis":{"zindex":1,"orient":"right","offset":-128,"values":[-10,-20],"labels":false,"tickSize":-20,"tickColor":"#555555","tickWidth":1.5,"domain":false,"grid":false,"title":null}}}},
{"data":{"name":"d_side"},"mark":{"type":"line","interpolate":"monotone","stroke":"#3a3a3a","strokeWidth":2.8},"encoding":{"detail":{"field":"lobe"}}},
{"data":{"values":[{"label":"u or v","u":0,"db":-34.2}]},"mark":{"type":"text","font":"DejaVu Sans","fontSize":15.5,"color":"#555555","baseline":"alphabetic"},"encoding":{"text":{"field":"label"}}},
{"data":{"values":[{"label":"(d)","u":0.016,"db":-38.5}]},"mark":{"type":"text","font":"Liberation Serif","fontSize":24,"color":"#444444","baseline":"alphabetic"},"encoding":{"text":{"field":"label"}}},
{"data":{"values":[{"label":"RELATIVE POWER (dB)","u":-0.165,"db":-14.3}]},"mark":{"type":"text","font":"Liberation Sans","fontSize":15.5,"color":"#444444","angle":270,"baseline":"middle"},"encoding":{"text":{"field":"label"}}}
]}
]
}
